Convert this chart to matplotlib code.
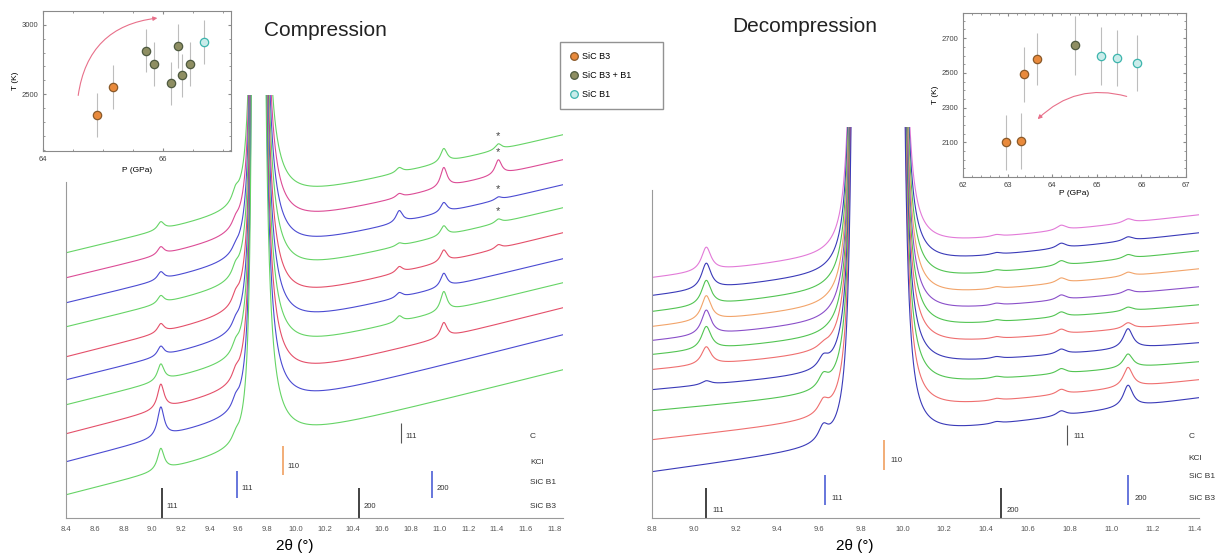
import numpy as np
import matplotlib.pyplot as plt
from matplotlib.lines import Line2D

plt.rcParams['font.family'] = ['Liberation Sans', 'DejaVu Sans']

# ---------------- compression patterns (top -> bottom) ----------------
comp_colors = ['#66d466', '#dc4c96', '#4b4bd2', '#66d466', '#e4506a',
               '#4b4bd2', '#66d466', '#e4506a', '#4b4bd2', '#66d466']
comp_start = [265, 240, 215, 191, 161, 138, 113, 84, 56, 23]      # intensity at 8.4
comp_end = [383, 358, 333, 310, 285, 259, 235, 210, 183, 148]     # intensity at 11.86
comp_peak_pos = [9.06, 9.58, 10.72, 11.03, 11.41]
comp_peak_h = [[8, 10, 5, 14, 6],
               [8, 6, 4, 20, 15],
               [8, 4, 12, 10, 3],
               [8, 8, 3, 10, 4],
               [9, 8, 6, 12, 4],
               [10, 6, 5, 14, 0],
               [17, 8, 6, 20, 0],
               [25, 8, 0, 15, 0],
               [30, 8, 0, 0, 0],
               [22, 6, 0, 0, 0]]
comp_main_edges = [9.72, 9.735]
comp_main_k = [0.35, 1.2]
comp_star = [0, 1, 2, 3]

# ---------------- decompression patterns (top -> bottom) ----------------
dec_colors = ['#e27ad8', '#3a3ab8', '#52c452', '#f2a46a', '#8a4fc9', '#52c452',
              '#ef6f6f', '#3a3ab8', '#52c452', '#ef6f6f', '#3a3ab8']
dec_start = [240, 222, 206, 191, 177, 163, 148, 128, 107, 78, 46]   # at 8.8
dec_end = [303, 285, 267, 249, 231, 213, 195, 175, 156, 138, 120]   # at 11.42
dec_peak_pos = [9.06, 9.62, 10.45, 10.76, 11.08]
dec_peak_h = [[24, 0, 2, 5, 4],
              [26, 0, 2, 5, 4],
              [25, 0, 2, 5, 4],
              [25, 0, 2, 5, 4],
              [25, 0, 2, 5, 4],
              [23, 0, 2, 5, 4],
              [18, 3, 2, 5, 6],
              [4, 10, 2, 5, 20],
              [0, 12, 2, 5, 14],
              [0, 12, 2, 5, 20],
              [0, 14, 2, 5, 22]]
dec_main_edges = [9.78, 9.98]
dec_main_k = [0.3, 0.4]

# ---------------- reference reflections ----------------
comp_b3_pos, comp_b3_hkl = [9.07, 10.44], ['111', '200']
comp_b1_pos, comp_b1_hkl = [9.59, 10.95], ['111', '200']
comp_kcl_pos, comp_kcl_hkl = [9.91], ['110']
comp_c_pos, comp_c_hkl = [10.73], ['111']

dec_b3_pos, dec_b3_hkl = [9.06, 10.47], ['111', '200']
dec_b1_pos, dec_b1_hkl = [9.63, 11.08], ['111', '200']
dec_kcl_pos, dec_kcl_hkl = [9.91], ['110']
dec_c_pos, dec_c_hkl = [10.79], ['111']

# ---------------- P-T insets ----------------
comp_P = [64.90, 65.17, 65.72, 65.85, 66.13, 66.25, 66.32, 66.45, 66.68]
comp_T = [2348, 2551, 2812, 2718, 2580, 2848, 2638, 2718, 2877]
comp_dT = [160, 160, 155, 160, 155, 160, 155, 160, 160]
comp_phase = ['B3', 'B3', 'B3+B1', 'B3+B1', 'B3+B1', 'B3+B1', 'B3+B1', 'B3+B1', 'B1']

dec_P = [62.97, 63.29, 63.36, 63.67, 64.50, 65.10, 65.46, 65.91]
dec_T = [2101, 2106, 2493, 2580, 2660, 2597, 2585, 2557]
dec_dT = [158, 160, 158, 150, 170, 167, 160, 160]
dec_phase = ['B3', 'B3', 'B3', 'B3', 'B3+B1', 'B1', 'B1', 'B1']

phase_style = {
    'B3': dict(mfc='#e98a3c', mec='#8a5a2a', label='SiC B3'),
    'B3+B1': dict(mfc='#8e8e62', mec='#4e5a40', label='SiC B3 + B1'),
    'B1': dict(mfc='#c9ecea', mec='#3db5ad', label='SiC B1'),
}

W, H = 1226, 555
fig = plt.figure(figsize=(W / 100, H / 100), dpi=100)


def px_axes(x0, y0, x1, y1):
    # pixel box (left, top, right, bottom) -> figure axes
    return fig.add_axes([x0 / W, 1 - y1 / H, (x1 - x0) / W, (y1 - y0) / H])


def pattern(x, start, end, pos, hts, edges, k, hw=0.028, w=0.01):
    y = start + (end - start) * (x - x[0]) / (x[-1] - x[0])
    for p, h in zip(pos, hts):
        y = y + h * hw ** 2 / ((x - p) ** 2 + hw ** 2)
    dl = np.clip(edges[0] - x, 0, None)
    dr = np.clip(x - edges[1], 0, None)
    mid = 0.5 * (edges[0] + edges[1])
    main = np.where(x < mid, k[0] / (dl ** 2 + w ** 2), k[1] / (dr ** 2 + w ** 2))
    return np.minimum(y + main, 2000)


def style_main(ax, top_bound):
    for s in ['top', 'right']:
        ax.spines[s].set_visible(False)
    ax.spines['left'].set_bounds(0, top_bound)
    ax.spines['left'].set_color('#9a9a9a')
    ax.spines['bottom'].set_color('#9a9a9a')
    ax.set_yticks([])
    ax.tick_params(axis='x', length=0, labelsize=5.5, labelcolor='#555', pad=6)


def sticks(ax, pos, hkl, color, y0, y1, ly, lw=1.2):
    for p, h in zip(pos, hkl):
        ax.plot([p, p], [y0, y1], color=color, lw=lw, solid_capstyle='butt')
        ax.text(p + 0.03, ly, h, fontsize=5.5, color='#333', va='center')


# ---------- compression ----------
ax1 = px_axes(66, 95, 563, 518)
x1 = np.linspace(8.4, 11.86, 4000)
for i, c in enumerate(comp_colors):
    y = pattern(x1, comp_start[i], comp_end[i], comp_peak_pos, comp_peak_h[i],
                comp_main_edges, comp_main_k)
    ax1.plot(x1, y, color=c, lw=0.8)
    if i in comp_star:
        ys = np.interp(11.41, x1, y)
        ax1.text(11.41, ys + 8, '*', fontsize=8, ha='center', va='center', color='#444')
ax1.set_xlim(8.4, 11.86)
ax1.set_ylim(0, 423)
ax1.set_xticks(np.round(np.arange(8.4, 11.81, 0.2), 1))
ax1.set_xticklabels([f'{v:.1f}' for v in np.arange(8.4, 11.81, 0.2)])
style_main(ax1, 336)
sticks(ax1, comp_b3_pos, comp_b3_hkl, '#222222', 0, 30, 12)
sticks(ax1, comp_b1_pos, comp_b1_hkl, '#4d5fd6', 20, 47, 29)
sticks(ax1, comp_kcl_pos, comp_kcl_hkl, '#f0a060', 43, 72, 51)
sticks(ax1, comp_c_pos, comp_c_hkl, '#555555', 75, 95, 81, lw=0.8)
for name, ly in zip(['C', 'KCl', 'SiC B1', 'SiC B3'], [82, 56, 36, 11]):
    ax1.text(11.63, ly, name, fontsize=6, color='#333', va='center')

# ---------- decompression ----------
ax2 = px_axes(652, 127, 1199, 518)
x2 = np.linspace(8.8, 11.42, 4000)
for i, c in enumerate(dec_colors):
    y = pattern(x2, dec_start[i], dec_end[i], dec_peak_pos, dec_peak_h[i],
                dec_main_edges, dec_main_k, w=0.015)
    ax2.plot(x2, y, color=c, lw=0.8)
ax2.set_xlim(8.8, 11.42)
ax2.set_ylim(0, 391)
ax2.set_xticks(np.round(np.arange(8.8, 11.41, 0.2), 1))
ax2.set_xticklabels([f'{v:.1f}' for v in np.arange(8.8, 11.41, 0.2)])
style_main(ax2, 328)
sticks(ax2, dec_b3_pos, dec_b3_hkl, '#222222', 0, 30, 8)
sticks(ax2, dec_b1_pos, dec_b1_hkl, '#4d5fd6', 13, 43, 20)
sticks(ax2, dec_kcl_pos, dec_kcl_hkl, '#f0a060', 48, 78, 58)
sticks(ax2, dec_c_pos, dec_c_hkl, '#555555', 73, 93, 82, lw=0.8)
for name, ly in zip(['C', 'KCl', 'SiC B1', 'SiC B3'], [82, 60, 42, 20]):
    ax2.text(11.37, ly, name, fontsize=6, color='#333', va='center')

fig.text(295 / W, 1 - 546 / H, '2θ (°)', fontsize=11, ha='center', va='center')
fig.text(855 / W, 1 - 546 / H, '2θ (°)', fontsize=11, ha='center', va='center')
fig.text(325 / W, 1 - 30 / H, 'Compression', fontsize=15, ha='center', va='center', color='#222')
fig.text(805 / W, 1 - 27 / H, 'Decompression', fontsize=15, ha='center', va='center', color='#222')


# ---------- insets ----------
def pt_inset(ax, P, T, dT, phase):
    for p, t, e, ph in zip(P, T, dT, phase):
        st = phase_style[ph]
        ax.errorbar(p, t, yerr=e, fmt='o', ms=6, mfc=st['mfc'], mec=st['mec'],
                    mew=0.9, ecolor='#bdbdbd', elinewidth=0.8, capsize=0)
    for s in ax.spines.values():
        s.set_color('#8a8a8a')
        s.set_linewidth(0.8)
    ax.tick_params(which='both', direction='in', top=True, right=True,
                   labelsize=5.5, labelcolor='#444', color='#8a8a8a')
    ax.tick_params(which='major', length=2.5)
    ax.tick_params(which='minor', length=1.5)
    ax.minorticks_on()


in1 = px_axes(43, 11, 231, 151)
pt_inset(in1, comp_P, comp_T, comp_dT, comp_phase)
in1.set_xlim(64, 67.13)
in1.set_ylim(2090, 3100)
in1.set_xticks([64, 66])
in1.set_yticks([2500, 3000])
in1.set_xlabel('P (GPa)', fontsize=6, labelpad=3)
in1.set_ylabel('T (K)', fontsize=6, labelpad=2)
in1.annotate('', xy=(65.95, 3051), xytext=(64.58, 2471),
             arrowprops=dict(arrowstyle='-|>', color='#e8708a', lw=0.8,
                             mutation_scale=6, connectionstyle='arc3,rad=-0.4'))

in2 = px_axes(963, 13, 1186, 177)
pt_inset(in2, dec_P, dec_T, dec_dT, dec_phase)
in2.set_xlim(62, 67)
in2.set_ylim(1900, 2845)
in2.set_xticks([62, 63, 64, 65, 66, 67])
in2.set_yticks([2100, 2300, 2500, 2700])
in2.set_xlabel('P (GPa)', fontsize=6, labelpad=1)
in2.set_ylabel('T (K)', fontsize=6, labelpad=2)
in2.annotate('', xy=(63.63, 2222), xytext=(65.73, 2360),
             arrowprops=dict(arrowstyle='-|>', color='#e8708a', lw=0.8,
                             mutation_scale=6, connectionstyle='arc3,rad=0.3'))

handles = [Line2D([], [], ls='none', marker='o', ms=5.5, mfc=s['mfc'], mec=s['mec'],
                  mew=0.9, label=s['label']) for s in phase_style.values()]
fig.legend(handles=handles, loc='upper left', mode='expand',
           bbox_to_anchor=(560 / W, 1 - 108 / H, 103 / W, 66 / H),
           fontsize=6.5, frameon=True, fancybox=False, edgecolor='#777',
           handletextpad=0.3, borderpad=1.1, labelspacing=1.1, handlelength=1.0,
           borderaxespad=0)

fig.savefig('out.png', dpi=100)
